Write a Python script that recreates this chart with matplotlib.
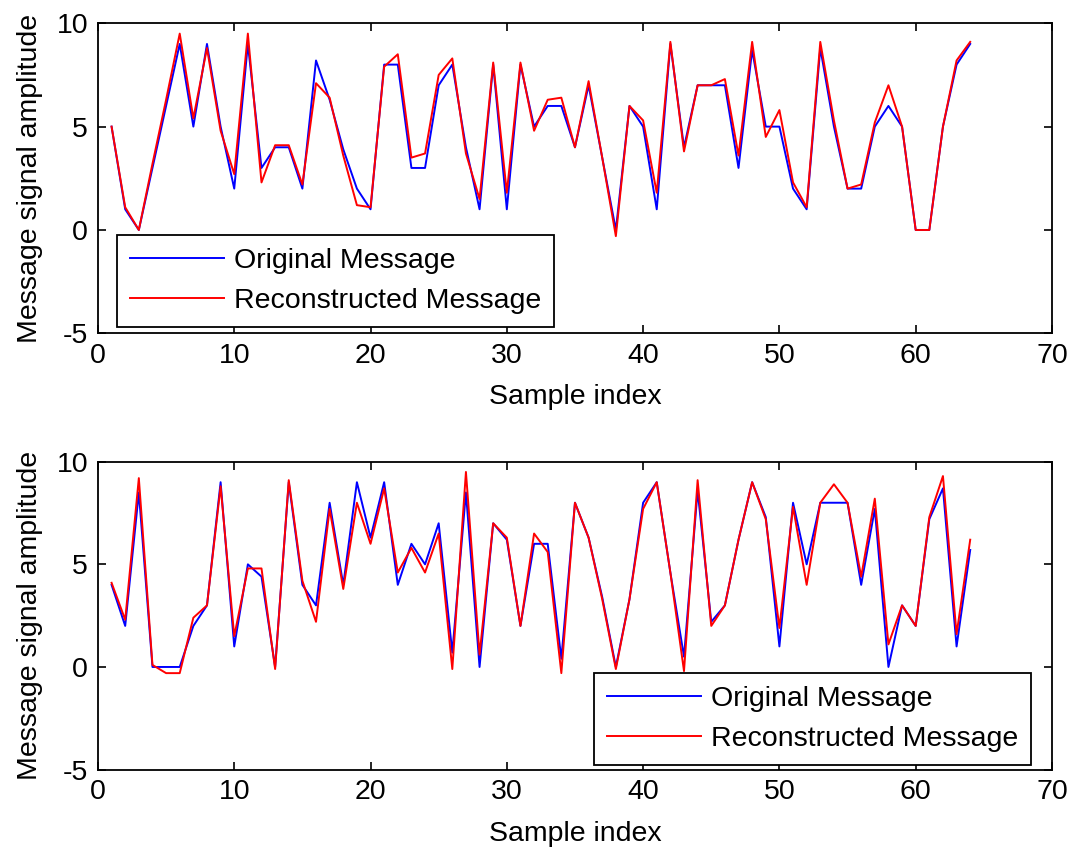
import numpy as np
import matplotlib
matplotlib.use("Agg")
import matplotlib.pyplot as plt

plt.rcParams['font.family'] = ['Liberation Sans', 'DejaVu Sans']
plt.rcParams['axes.unicode_minus'] = False

# Sample indices shared by both panels
sample_index = np.arange(1, 65)

# Panel 1: original vs reconstructed message
orig_1 = [5, 1, 0, 3, 6, 9, 5, 9, 5, 2, 9, 3, 4, 4, 2, 8.2, 6.3, 3.9, 2, 1,
          8, 8, 3, 3, 7, 8, 4, 1, 8, 1, 8, 5, 6, 6, 4, 7, 3.5, 0, 6, 5,
          1, 9, 4, 7, 7, 7, 3, 8.7, 5, 5, 2, 1, 8.8, 5, 2, 2, 5, 6, 5, 0,
          0, 5, 8, 9]
recon_1 = [5, 1.1, 0, 3.2, 6.3, 9.5, 5.4, 8.8, 4.8, 2.7, 9.5, 2.3, 4.1, 4.1, 2.2, 7.1, 6.4, 3.6, 1.2, 1.1,
           7.9, 8.5, 3.5, 3.7, 7.5, 8.3, 3.7, 1.5, 8.1, 1.8, 8.1, 4.8, 6.3, 6.4, 4, 7.2, 3.5, -0.3, 6, 5.3,
           1.8, 9.1, 3.8, 7, 7, 7.3, 3.6, 9.1, 4.5, 5.8, 2.3, 1.1, 9.1, 5.3, 2, 2.2, 5.2, 7, 5, 0,
           0, 5, 8.2, 9.1]

# Panel 2: original vs reconstructed message
orig_2 = [4, 2, 8.5, 0, 0, 0, 2, 3, 9, 1, 5, 4.4, 0, 9, 4, 3, 8, 4, 9, 6.3,
          9, 4, 6, 5, 7, 0.7, 8.5, 0, 7, 6.2, 2, 6, 6, 0.4, 8, 6.3, 3.4, 0, 3.3, 8,
          9, 4.6, 0.5, 8.6, 2.2, 3, 6.2, 9, 7.3, 1, 8, 5, 8, 8, 8, 4, 7.7, 0, 3, 2,
          7.2, 8.7, 1, 5.7]
recon_2 = [4.1, 2.3, 9.2, 0.1, -0.3, -0.3, 2.4, 3, 8.8, 1.5, 4.8, 4.8, -0.1, 9.1, 4.2, 2.2, 7.7, 3.8, 8, 6,
           8.7, 4.6, 5.8, 4.6, 6.5, -0.1, 9.5, 0.6, 7, 6.3, 2, 6.5, 5.6, -0.3, 8, 6.3, 3.3, -0.1, 3.3, 7.7,
           9, 4.6, -0.2, 9.1, 2, 3, 6.2, 9, 7.2, 1.9, 7.8, 4, 8, 8.9, 8, 4.4, 8.2, 1.1, 3, 2,
           7.3, 9.3, 1.6, 6.2]

x_ticks = [0, 10, 20, 30, 40, 50, 60, 70]
y_ticks = [-5, 0, 5, 10]
legend_labels = ['Original Message', 'Reconstructed Message']
xlabel_text = 'Sample index'
ylabel_text = 'Message signal amplitude'

FS = 20.5

fig = plt.figure(figsize=(10.74, 8.49), dpi=100)
ax_top = fig.add_axes([0.0912, 0.6074, 0.8883, 0.3652])
ax_bot = fig.add_axes([0.0912, 0.0935, 0.8883, 0.3627])

panels = [
    (ax_top, orig_1, recon_1, 'lower left', (0.02, 0.02)),
    (ax_bot, orig_2, recon_2, 'lower right', (0.978, 0.015)),
]

for ax, orig, recon, loc, anchor in panels:
    ax.plot(sample_index, orig, color='#0000ff', lw=1.4, label=legend_labels[0])
    ax.plot(sample_index, recon, color='#ff0000', lw=1.4, label=legend_labels[1])
    ax.set_xlim(0, 70)
    ax.set_ylim(-5, 10)
    ax.set_xticks(x_ticks)
    ax.set_yticks(y_ticks)
    ax.tick_params(direction='in', length=6, width=1.2, top=True, right=True,
                   labelsize=FS, pad=7, colors='black')
    for sp in ax.spines.values():
        sp.set_linewidth(1.3)
        sp.set_color('black')
    ax.set_xlabel(xlabel_text, fontsize=FS, labelpad=11)
    ax.set_ylabel(ylabel_text, fontsize=FS, labelpad=10)
    leg = ax.legend(loc=loc, bbox_to_anchor=anchor, fontsize=FS, frameon=True,
                    fancybox=False, framealpha=1, edgecolor='black',
                    handlelength=3.3, handletextpad=0.35, labelspacing=0.5,
                    borderpad=0.45, borderaxespad=0)
    leg.get_frame().set_linewidth(1.3)

fig.savefig('out.png', dpi=100)
